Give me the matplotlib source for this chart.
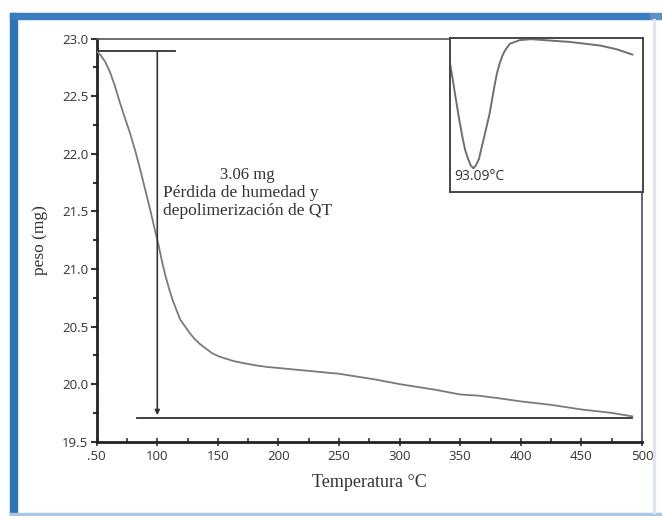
import matplotlib
matplotlib.use("Agg")
import matplotlib.pyplot as plt
from matplotlib.patches import Rectangle
from matplotlib.ticker import MultipleLocator

# TGA curve: sample mass versus temperature
temperature = [50, 53, 57, 61, 65, 69, 73, 77.5, 82, 86, 90, 94, 98, 101, 104,
               107, 110, 113, 116, 119, 123, 127, 131, 135, 140, 145, 151, 157,
               163, 170, 180, 190, 205, 220, 235, 250, 265, 280, 300, 315, 330,
               350, 365, 380, 400, 425, 450, 475, 492]
mass = [22.89, 22.86, 22.80, 22.71, 22.59, 22.45, 22.32, 22.18, 22.02, 21.86,
        21.69, 21.52, 21.34, 21.21, 21.06, 20.93, 20.82, 20.72, 20.64, 20.56,
        20.50, 20.44, 20.39, 20.35, 20.31, 20.27, 20.24, 20.22, 20.20, 20.185,
        20.165, 20.15, 20.135, 20.12, 20.105, 20.09, 20.065, 20.04, 20.00,
        19.975, 19.95, 19.91, 19.90, 19.88, 19.85, 19.82, 19.78, 19.75, 19.72]

# DTG inset: derivative signal around the first mass-loss event
dtg_temperature = [70, 72.5, 75, 78.5, 82, 85, 88, 90.5, 93.09, 95.5, 98.5,
                   101, 104, 106.5, 109, 111.5, 114, 116.5, 119, 121.5, 124,
                   129, 139, 150, 163, 175, 188, 203, 218, 234, 250]
dtg_signal = [-0.14, -0.22, -0.31, -0.43, -0.54, -0.62, -0.67, -0.705, -0.72,
              -0.705, -0.67, -0.61, -0.54, -0.48, -0.42, -0.34, -0.26, -0.19,
              -0.14, -0.10, -0.07, -0.03, -0.01, -0.005, -0.01, -0.015, -0.02,
              -0.03, -0.04, -0.06, -0.09]

# Mass-loss bracket
mass_start = 22.89
mass_end = 19.71
bracket_temp = 100
loss_label = "3.06 mg"
loss_text = ["Pérdida de humedad y", "depolimerización de QT"]
peak_label = "93.09°C"

x_ticks = [50, 100, 150, 200, 250, 300, 350, 400, 450, 500]
y_ticks = [19.5, 20.0, 20.5, 21.0, 21.5, 22.0, 22.5, 23.0]

serif = ["Liberation Serif", "DejaVu Serif"]
sans = ["Open Sans", "DejaVu Sans"]
W, H = 662, 516

fig = plt.figure(figsize=(W / 100, H / 100), dpi=100)
fig.patch.set_facecolor("white")


def frame_rect(x, y, w, h, color):
    """Rectangle given in pixel units measured from the top-left corner."""
    fig.patches.append(Rectangle((x / W, 1 - (y + h) / H), w / W, h / H,
                                 transform=fig.transFigure, color=color,
                                 zorder=0))


# blue frame around the figure
frame_rect(10, 13, 7, 503, "#2f74b5")
frame_rect(10, 13, 640, 6, "#3a7cc0")
frame_rect(650, 13, 12, 6, "#5f8fc4")
frame_rect(10, 513, 652, 3, "#a9c8e4")
frame_rect(653, 19, 2, 494, "#dde6ee")

ax = fig.add_axes([96.7 / W, 74.3 / H, 545.3 / W, 403.0 / H])
ax.set_xlim(50, 500)
ax.set_ylim(19.5, 23.0)

ax.plot(temperature, mass, color="#7a7a7a", lw=1.3, zorder=3)

# bracket lines
ax.plot([50, 115], [mass_start, mass_start], color="#333333", lw=1.3)
ax.plot([83, 492], [mass_end, mass_end], color="#333333", lw=1.3)
ax.annotate("", xy=(bracket_temp, mass_end + 0.02), xytext=(bracket_temp, mass_start),
            arrowprops=dict(arrowstyle="-|>", color="#333333", lw=1.2,
                            mutation_scale=7, shrinkA=0, shrinkB=0))

fig.text(247 / W, 1 - 175 / H, loss_label, fontsize=12, family=serif,
         color="#333333", ha="center", va="center")
fig.text(163 / W, 1 - 193 / H, loss_text[0], fontsize=12.5, family=serif,
         color="#333333", ha="left", va="center")
fig.text(163 / W, 1 - 211 / H, loss_text[1], fontsize=12.5, family=serif,
         color="#333333", ha="left", va="center")

ax.set_xticks(x_ticks)
ax.set_xticklabels([".50" if t == 50 else str(t) for t in x_ticks])
ax.set_yticks(y_ticks)
ax.set_yticklabels([f"{v:.1f}" for v in y_ticks])
ax.xaxis.set_minor_locator(MultipleLocator(25))
ax.yaxis.set_minor_locator(MultipleLocator(0.25))
ax.tick_params(axis="x", which="major", direction="inout", length=6, width=1.2,
               color="#333333", labelsize=9.5, pad=3)
ax.tick_params(axis="x", which="minor", direction="in", length=3, width=1.2,
               color="#333333")
ax.tick_params(axis="y", which="major", direction="out", length=4, width=1.5,
               color="#333333", labelsize=9.5, pad=2)
ax.tick_params(axis="y", which="minor", direction="out", length=3, width=1.5,
               color="#333333")
for lab in ax.get_xticklabels() + ax.get_yticklabels():
    lab.set_family(sans)
    lab.set_color("#333333")

ax.spines["left"].set_linewidth(2.0)
ax.spines["bottom"].set_linewidth(2.0)
ax.spines["left"].set_color("#222222")
ax.spines["bottom"].set_color("#222222")
ax.spines["top"].set_linewidth(1.2)
ax.spines["top"].set_color("#555555")
ax.spines["right"].set_linewidth(1.4)
ax.spines["right"].set_color("#666666")

ax.set_xlabel("Temperatura °C", family=serif, fontsize=13, color="#333333",
              labelpad=8)
ax.set_ylabel("peso (mg)", family=serif, fontsize=12.5, color="#333333",
              labelpad=10)

# DTG inset
ins = fig.add_axes([450 / W, 1 - 191.7 / H, 192.5 / W, 153.4 / H])
ins.set_xlim(70, 260)
ins.set_ylim(-0.85, 0.0)
ins.plot(dtg_temperature, dtg_signal, color="#6f6f6f", lw=1.4)
ins.set_xticks([])
ins.set_yticks([])
for s in ins.spines.values():
    s.set_linewidth(1.4)
    s.set_color("#444444")
ins.text(0.02, 0.05, peak_label, transform=ins.transAxes, fontsize=10,
         family=sans, color="#333333", ha="left", va="bottom")

fig.savefig("out.png", dpi=100, facecolor="white")
